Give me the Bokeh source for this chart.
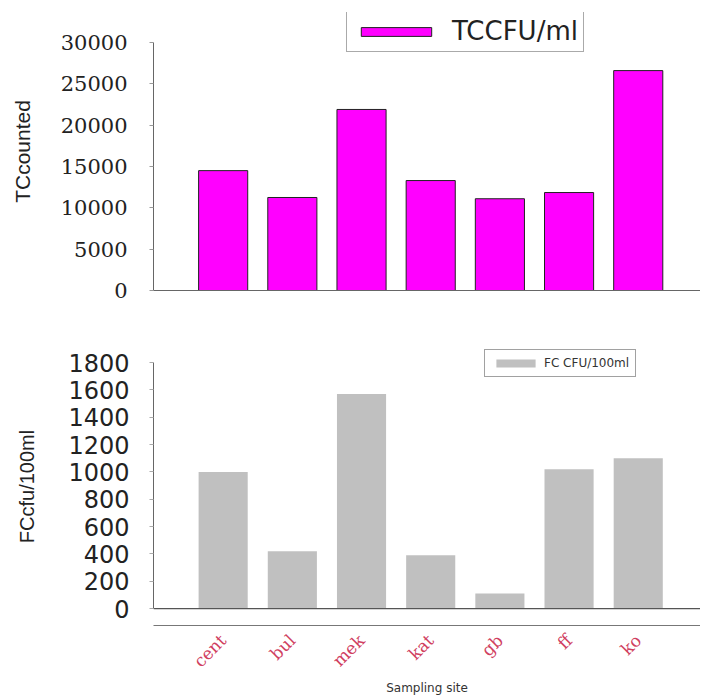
from bokeh.plotting import figure
from bokeh.models import (Range1d, FixedTicker, Legend, LegendItem, Span)
from bokeh.layouts import column
from bokeh.embed import file_html
from bokeh.resources import INLINE
import math

sites = ["cent", "bul", "mek", "kat", "gb", "ff", "ko"]
tc_values = [14500, 11250, 21900, 13300, 11100, 11850, 26600]
fc_values = [1000, 420, 1570, 390, 110, 1020, 1100]
tc_ticks = [0, 5000, 10000, 15000, 20000, 25000, 30000]
fc_ticks = [0, 200, 400, 600, 800, 1000, 1200, 1400, 1600, 1800]
tc_label = "TCCFU/ml"
fc_label = "FC CFU/100ml"

xs = list(range(len(sites)))
x_start, x_end = -1.007, 6.9

# ---------- top chart ----------
p1 = figure(width=700, height=304, output_backend="svg", toolbar_location=None,
            x_range=Range1d(x_start, x_end), y_range=Range1d(0, 33629),
            min_border_left=153, min_border_right=0, min_border_top=12,
            min_border_bottom=14)
p1.outline_line_color = None
p1.grid.visible = False
r1 = p1.vbar(x=xs, top=tc_values, width=0.71, fill_color="#ff00ff",
             line_color="#222222", line_width=1)
p1.yaxis.ticker = FixedTicker(ticks=tc_ticks)
p1.yaxis.bounds = (0, 30000)
p1.yaxis.major_label_text_font = "DejaVu Serif"
p1.yaxis.major_label_text_font_size = "21px"
p1.yaxis.major_label_text_color = "#222222"
p1.yaxis.major_label_standoff = 22
p1.yaxis.major_tick_out = 4
p1.yaxis.major_tick_in = 0
p1.yaxis.minor_tick_line_color = None
p1.yaxis.axis_line_color = "#666666"
p1.yaxis.major_tick_line_color = "#999999"
p1.yaxis.axis_label = "TCcounted"
p1.yaxis.axis_label_text_font = "Liberation Sans"
p1.yaxis.axis_label_text_font_style = "normal"
p1.yaxis.axis_label_text_font_size = "21px"
p1.yaxis.axis_label_text_color = "#222222"
p1.yaxis.axis_label_standoff = 24
p1.xaxis.ticker = FixedTicker(ticks=[])
p1.xaxis.major_label_text_font_size = "0px"
p1.xaxis.major_tick_line_color = None
p1.xaxis.minor_tick_line_color = None
p1.xaxis.axis_line_color = "#666666"

leg1 = Legend(items=[LegendItem(label=tc_label, renderers=[r1])],
              location=(193, 238), orientation="vertical",
              glyph_width=88, glyph_height=11, label_standoff=12,
              label_text_font="DejaVu Sans", label_text_font_size="26px",
              label_text_color="#222222", padding=5, margin=0,
              border_line_color="#555555", border_line_width=1.5,
              background_fill_alpha=1)
p1.add_layout(leg1, "center")

# ---------- bottom chart ----------
p2 = figure(width=700, height=394, output_backend="svg", toolbar_location=None,
            x_range=Range1d(x_start, x_end), y_range=Range1d(-124, 1910),
            min_border_left=153, min_border_right=0, min_border_top=43,
            min_border_bottom=73)
p2.outline_line_color = None
p2.grid.visible = False
r2 = p2.vbar(x=xs, top=fc_values, width=0.71, fill_color="#c0c0c0",
             line_color=None)
p2.add_layout(Span(location=0, dimension="width", line_color="#555555",
                   line_width=1.2))
p2.yaxis.ticker = FixedTicker(ticks=fc_ticks)
p2.yaxis.bounds = (0, 1800)
p2.yaxis.major_label_text_font = "DejaVu Sans"
p2.yaxis.major_label_text_font_size = "24px"
p2.yaxis.major_label_text_color = "#222222"
p2.yaxis.major_label_standoff = 20
p2.yaxis.major_tick_out = 4
p2.yaxis.major_tick_in = 0
p2.yaxis.minor_tick_line_color = None
p2.yaxis.axis_line_color = "#666666"
p2.yaxis.major_tick_line_color = "#aaaaaa"
p2.yaxis.axis_label = "FCcfu/100ml"
p2.yaxis.axis_label_text_font = "Liberation Sans"
p2.yaxis.axis_label_text_font_style = "normal"
p2.yaxis.axis_label_text_font_size = "20px"
p2.yaxis.axis_label_text_color = "#222222"
p2.yaxis.axis_label_standoff = 27
p2.xaxis.ticker = FixedTicker(ticks=xs)
p2.xaxis.major_label_overrides = {i: s for i, s in zip(xs, sites)}
p2.xaxis.major_label_orientation = math.pi / 4
p2.xaxis.major_label_text_font = "DejaVu Serif"
p2.xaxis.major_label_text_font_size = "17px"
p2.xaxis.major_label_text_color = "#d04060"
p2.xaxis.major_label_standoff = 6
p2.xaxis.major_tick_line_color = None
p2.xaxis.minor_tick_line_color = None
p2.xaxis.axis_line_color = "#777777"
p2.xaxis.axis_label = "Sampling site"
p2.xaxis.axis_label_text_font = "DejaVu Sans"
p2.xaxis.axis_label_text_font_style = "normal"
p2.xaxis.axis_label_text_font_size = "12px"
p2.xaxis.axis_label_text_color = "#333333"
p2.xaxis.axis_label_standoff = 0

leg2 = Legend(items=[LegendItem(label=fc_label, renderers=[r2])],
              location=(331, 248), orientation="vertical",
              glyph_width=49, glyph_height=10, label_standoff=4,
              label_text_font="DejaVu Sans", label_text_font_size="12px",
              label_text_color="#333333", padding=6, margin=0,
              border_line_color="#444444", border_line_width=1.2,
              background_fill_alpha=1)
p2.add_layout(leg2, "center")

layout = column(p1, p2, spacing=0)
open("out.html", "w").write(file_html(layout, INLINE))
